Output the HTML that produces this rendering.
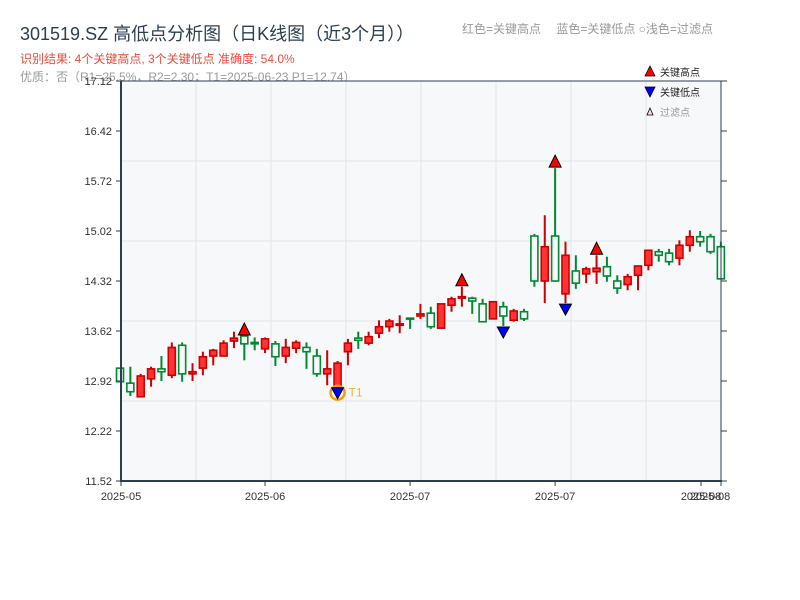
<!DOCTYPE html>
<html><head><meta charset="utf-8"><style>
body{margin:0;background:#fff;width:800px;height:600px;overflow:hidden}
svg{display:block;font-family:"Liberation Sans","Noto Sans CJK SC",sans-serif}
</style></head><body>
<svg id="chart" width="800" height="600">
<text x="20" y="40" font-size="18" fill="#2c3e50">301519.SZ 高低点分析图（日K线图（近3个月））</text>
<text x="20" y="63" font-size="12" fill="#e74c3c">识别结果: 4个关键高点, 3个关键低点  准确度: 54.0%</text>
<text x="20" y="81" font-size="12" fill="#999">优质：否（R1=25.5%，R2=2.30；T1=2025-06-23 P1=12.74）</text>
<text x="462" y="33" font-size="12" fill="#999">红色=关键高点　 蓝色=关键低点  ○浅色=过滤点</text>
<rect x="121" y="81" width="600" height="400" fill="#f7f8fa"/>
<g id="grid"></g>
<g id="candles"></g>
<g id="marks"></g>
<line x1="121" y1="81" x2="721" y2="81" stroke="#2c3e50" stroke-width="1"/>
<line x1="721" y1="81" x2="721" y2="481" stroke="#2c3e50" stroke-width="1"/>
<line x1="121" y1="81" x2="121" y2="482" stroke="#2c3e50" stroke-width="2"/>
<line x1="120" y1="481" x2="722" y2="481" stroke="#2c3e50" stroke-width="2"/>
<g id="axes"></g>
<g>
<polygon points="645,76 655,76 650,66" fill="#ff0000" stroke="#000" stroke-width="0.8"/>
<text x="660" y="76" font-size="10" fill="#222">关键高点</text>
<polygon points="645,87 655,87 650,97" fill="#0000ff" stroke="#000" stroke-width="0.8"/>
<text x="660" y="96" font-size="10" fill="#222">关键低点</text>
<polygon points="647,115 653,115 650,108" fill="#fdd" stroke="#000" stroke-width="0.8"/>
<text x="660" y="116" font-size="10" fill="#999">过滤点</text>
</g>
</svg>
<script>
const opens  =[13.10,12.89,12.70,12.95,13.09,13.00,13.42,13.02,13.10,13.27,13.27,13.48,13.55,13.46,13.37,13.44,13.27,13.38,13.39,13.27,13.02,12.84,13.33,13.52,13.45,13.59,13.68,13.70,13.80,13.83,13.87,13.66,13.98,14.08,14.08,14.00,13.79,13.96,13.77,13.89,14.95,14.32,14.95,14.14,14.46,14.42,14.45,14.52,14.32,14.27,14.40,14.54,14.73,14.71,14.64,14.82,14.94,14.94,14.80];
const highs  =[13.10,13.12,13.02,13.12,13.27,13.46,13.46,13.17,13.33,13.37,13.49,13.61,13.55,13.53,13.53,13.48,13.51,13.49,13.46,13.37,13.35,13.20,13.51,13.61,13.61,13.77,13.79,13.84,13.80,14.00,13.96,14.00,14.10,14.24,14.10,14.07,14.03,14.03,13.93,13.93,14.98,15.24,15.90,14.87,14.68,14.52,14.68,14.66,14.40,14.42,14.54,14.75,14.77,14.77,14.89,15.03,15.02,14.98,14.87];
const lows   =[12.91,12.71,12.70,12.84,12.92,12.96,12.91,12.92,13.00,13.14,13.27,13.38,13.21,13.35,13.31,13.13,13.17,13.31,13.09,12.98,12.86,12.84,13.14,13.37,13.42,13.52,13.61,13.59,13.65,13.79,13.65,13.66,13.89,13.96,13.86,13.75,13.79,13.69,13.75,13.76,14.24,14.01,14.31,14.01,14.21,14.29,14.28,14.31,14.14,14.19,14.19,14.47,14.59,14.54,14.54,14.73,14.80,14.70,14.35];
const closes =[12.91,12.77,12.99,13.09,13.05,13.39,13.02,13.05,13.26,13.35,13.45,13.52,13.44,13.44,13.51,13.26,13.39,13.46,13.33,13.02,13.09,13.17,13.45,13.49,13.54,13.68,13.76,13.72,13.79,13.86,13.68,14.00,14.07,14.10,14.04,13.75,14.03,13.83,13.90,13.79,14.32,14.80,14.32,14.68,14.29,14.49,14.50,14.39,14.22,14.38,14.53,14.75,14.68,14.59,14.82,14.94,14.87,14.73,14.35];
const keyHighs=[12,33,42,46];
const keyLows=[21,37,43];
const yTicks=[11.52,12.22,12.92,13.62,14.32,15.02,15.72,16.42,17.12];
const xTickLabels=["2025-05","2025-06","2025-07","2025-07","2025-08","2025-08"];
const xTickIdx=[0,14,28,42,56,58];

const NS="http://www.w3.org/2000/svg";
const yMin=11.52,yMax=17.12,yTop=81,yBot=481,x0=120,step=10.36;
function ys(v){return yBot-(v-yMin)/(yMax-yMin)*(yBot-yTop);}
function xs(i){return x0+i*step;}
function mk(tag,attrs,parent){const e=document.createElementNS(NS,tag);for(const k in attrs)e.setAttribute(k,attrs[k]);parent.appendChild(e);return e;}
const grid=document.getElementById('grid'),cg=document.getElementById('candles'),mg=document.getElementById('marks'),ax=document.getElementById('axes');
for(let k=1;k<8;k++){const e=mk('line',{x1:121+75*k,y1:81,x2:121+75*k,y2:481,stroke:'#e2e4e8','stroke-width':1},grid);

}
for(let k=1;k<5;k++){const e=mk('line',{x1:121,y1:81+80*k,x2:721,y2:81+80*k,stroke:'#e2e4e8','stroke-width':1},grid);

}
yTicks.forEach(v=>{const y=ys(v);
const l=mk('line',{x1:116,y1:y,x2:121,y2:y,stroke:'#2c3e50','stroke-width':1},ax);


const r=mk('line',{x1:721,y1:y,x2:727,y2:y,stroke:'#2c3e50','stroke-width':1},ax);


const t=mk('text',{x:112,y:y+4,'font-size':11,fill:'#333','text-anchor':'end'},ax);t.textContent=v.toFixed(2);

});
xTickIdx.forEach((i,k)=>{const x=k==4?701:(k==5?721:xs(i)+(k==0?1:0));
const l=mk('line',{x1:x,y1:481,x2:x,y2:486,stroke:'#2c3e50','stroke-width':1},ax);


const t=mk('text',{x:k==5?710:x,y:500,'font-size':11,fill:'#333','text-anchor':'middle'},ax);t.textContent=xTickLabels[k];

});
opens.forEach((o,i)=>{const c=closes[i],up=c>=o,x=xs(i);
const col=up?'#cc0000':'#008833';
const g=mk('g',{},cg);


const w=mk('line',{x1:x,y1:ys(highs[i]),x2:x,y2:ys(lows[i]),stroke:col,'stroke-width':2},g);


const y1=ys(Math.max(o,c)),y2=ys(Math.min(o,c));
const b=mk('rect',{x:x-3.5,y:y1,width:7,height:Math.max(1,y2-y1),fill:up?'#ff3333':'#f7f8fa',stroke:col,'stroke-width':1.6},g);

});
keyHighs.forEach(i=>{const x=xs(i),y=ys(highs[i])-1;
const p=mk('polygon',{points:`${x-6},${y} ${x+6},${y} ${x},${y-12}`,fill:'#ff0000',stroke:'#000','stroke-width':1},mg);

});
keyLows.forEach((i,k)=>{const x=xs(i),y=ys(lows[i])+1;
if(k==0){const c=mk('circle',{cx:x,cy:y+5,r:7,fill:'none',stroke:'#f39c12','stroke-width':2.5},mg);


const t=mk('text',{x:x+11,y:y+9,'font-size':12,fill:'#f5b041'},mg);t.textContent='T1';

}
const p=mk('polygon',{points:`${x-6},${y} ${x+6},${y} ${x},${y+11}`,fill:'#0000ff',stroke:'#000','stroke-width':1},mg);

});
</script>
</body></html>
